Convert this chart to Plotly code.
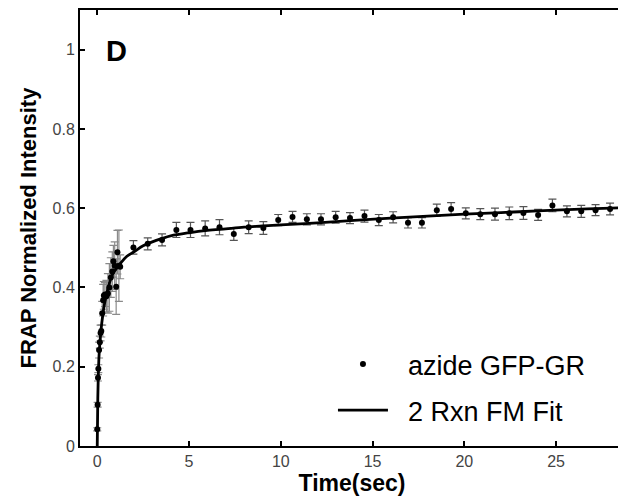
import plotly.graph_objects as go

# Early (fast-sampled) FRAP data
t_early = [0.00, 0.02, 0.04, 0.06, 0.10, 0.14, 0.18, 0.22, 0.27, 0.32, 0.36, 0.42,
           0.50, 0.58, 0.66, 0.74, 0.82, 0.88, 0.95, 1.03, 1.10, 1.18, 1.25]
y_early = [0.042, 0.104, 0.172, 0.195, 0.242, 0.262, 0.285, 0.290, 0.335, 0.368, 0.380, 0.382,
           0.378, 0.385, 0.400, 0.425, 0.440, 0.466, 0.455, 0.402, 0.489, 0.455, 0.452]
e_early = [0.004, 0.006, 0.008, 0.010, 0.020, 0.015, 0.020, 0.015, 0.030, 0.040, 0.035, 0.030,
           0.040, 0.050, 0.060, 0.050, 0.050, 0.040, 0.060, 0.070, 0.055, 0.090, 0.030]

# Later FRAP data
t_late = [1.97, 2.75, 3.53, 4.31, 5.08, 5.88, 6.66, 7.44, 8.25, 9.05, 9.86, 10.64, 11.42,
          12.19, 12.99, 13.77, 14.56, 15.34, 16.12, 16.93, 17.69, 18.50, 19.28, 20.08,
          20.87, 21.67, 22.45, 23.22, 24.02, 24.80, 25.59, 26.37, 27.15, 27.94, 28.63]
y_late = [0.501, 0.510, 0.520, 0.545, 0.545, 0.549, 0.552, 0.535, 0.552, 0.550, 0.570, 0.578,
          0.572, 0.572, 0.577, 0.575, 0.580, 0.570, 0.577, 0.563, 0.563, 0.595, 0.598, 0.587,
          0.585, 0.585, 0.587, 0.588, 0.583, 0.607, 0.592, 0.592, 0.595, 0.598, 0.585]
e_late = [0.017, 0.015, 0.015, 0.019, 0.019, 0.019, 0.019, 0.016, 0.016, 0.016, 0.014, 0.014,
          0.014, 0.014, 0.015, 0.014, 0.015, 0.014, 0.014, 0.013, 0.013, 0.015, 0.016, 0.014,
          0.014, 0.015, 0.016, 0.016, 0.014, 0.016, 0.014, 0.015, 0.014, 0.015, 0.014]

# 2 Rxn FM fit curve
t_fit = [0, 0.03, 0.06, 0.1, 0.2, 0.3, 0.4, 0.6, 0.8, 1.0, 1.3, 1.6, 2.0, 2.5, 3.0, 3.5,
         4, 5, 6, 7, 8, 9, 10, 12, 14, 16, 18, 20, 22, 24, 26, 28, 29]
y_fit = [0.0, 0.12, 0.18, 0.23, 0.29, 0.33, 0.36, 0.40, 0.43, 0.445, 0.463, 0.478, 0.49,
         0.505, 0.515, 0.523, 0.53, 0.538, 0.544, 0.548, 0.552, 0.555, 0.558, 0.563, 0.569,
         0.575, 0.58, 0.585, 0.589, 0.593, 0.597, 0.600, 0.602]

x_ticks = [0, 5, 10, 15, 20, 25]
y_ticks = [0, 0.2, 0.4, 0.6, 0.8, 1]

FONT = "Liberation Sans, Arial, sans-serif"

fig = go.Figure()
fig.add_trace(go.Scatter(
    x=t_early, y=y_early, mode="markers", showlegend=False,
    marker=dict(color="black", size=6),
    error_y=dict(type="data", array=e_early, color="#8a8a8a", thickness=1.2, width=4),
))
fig.add_trace(go.Scatter(
    x=t_late, y=y_late, mode="markers", name="&nbsp;&nbsp;azide GFP-GR", legendgroup="a",
    marker=dict(color="black", size=6),
    error_y=dict(type="data", array=e_late, color="#555555", thickness=1.2, width=4),
))
fig.add_trace(go.Scatter(
    x=t_fit, y=y_fit, mode="lines", name="&nbsp;&nbsp;2 Rxn FM Fit", legendgroup="b",
    line=dict(color="black", width=2.8, shape="spline"),
))

fig.add_annotation(x=0.045, y=0.905, xref="paper", yref="paper", text="<b>D</b>",
                   showarrow=False, xanchor="left", yanchor="middle",
                   font=dict(size=29, color="black", family=FONT))

fig.update_layout(
    width=618, height=492,
    margin=dict(l=72, r=0, t=1, b=54),
    paper_bgcolor="white", plot_bgcolor="white",
    font=dict(family=FONT, color="black"),
    showlegend=True,
    legend=dict(x=0.465, y=0.243, xanchor="left", yanchor="top",
                bgcolor="rgba(0,0,0,0)", traceorder="grouped", tracegroupgap=8,
                itemwidth=50,
                font=dict(size=27, color="black", family=FONT)),
    xaxis=dict(range=[-0.94, 28.7], tickvals=x_ticks, ticks="inside", ticklen=5,
               tickwidth=1.5, tickcolor="black", showline=True, linecolor="black",
               linewidth=2, mirror="ticks", showgrid=False, zeroline=False,
               tickfont=dict(size=16, color="#444", family=FONT),
               title=dict(text="<b>Time(sec)</b>", standoff=4,
                          font=dict(size=23, color="black", family=FONT))),
    yaxis=dict(range=[0, 1.1], tickvals=y_ticks, ticks="inside", ticklen=5,
               tickwidth=1.5, tickcolor="black", showline=True, linecolor="black",
               linewidth=2, mirror="ticks", showgrid=False, zeroline=False,
               tickfont=dict(size=16, color="#444", family=FONT),
               title=dict(text="<b>FRAP Normalized Intensity</b>", standoff=10,
                          font=dict(size=22, color="black", family=FONT))),
)

fig.write_html("out.html")
